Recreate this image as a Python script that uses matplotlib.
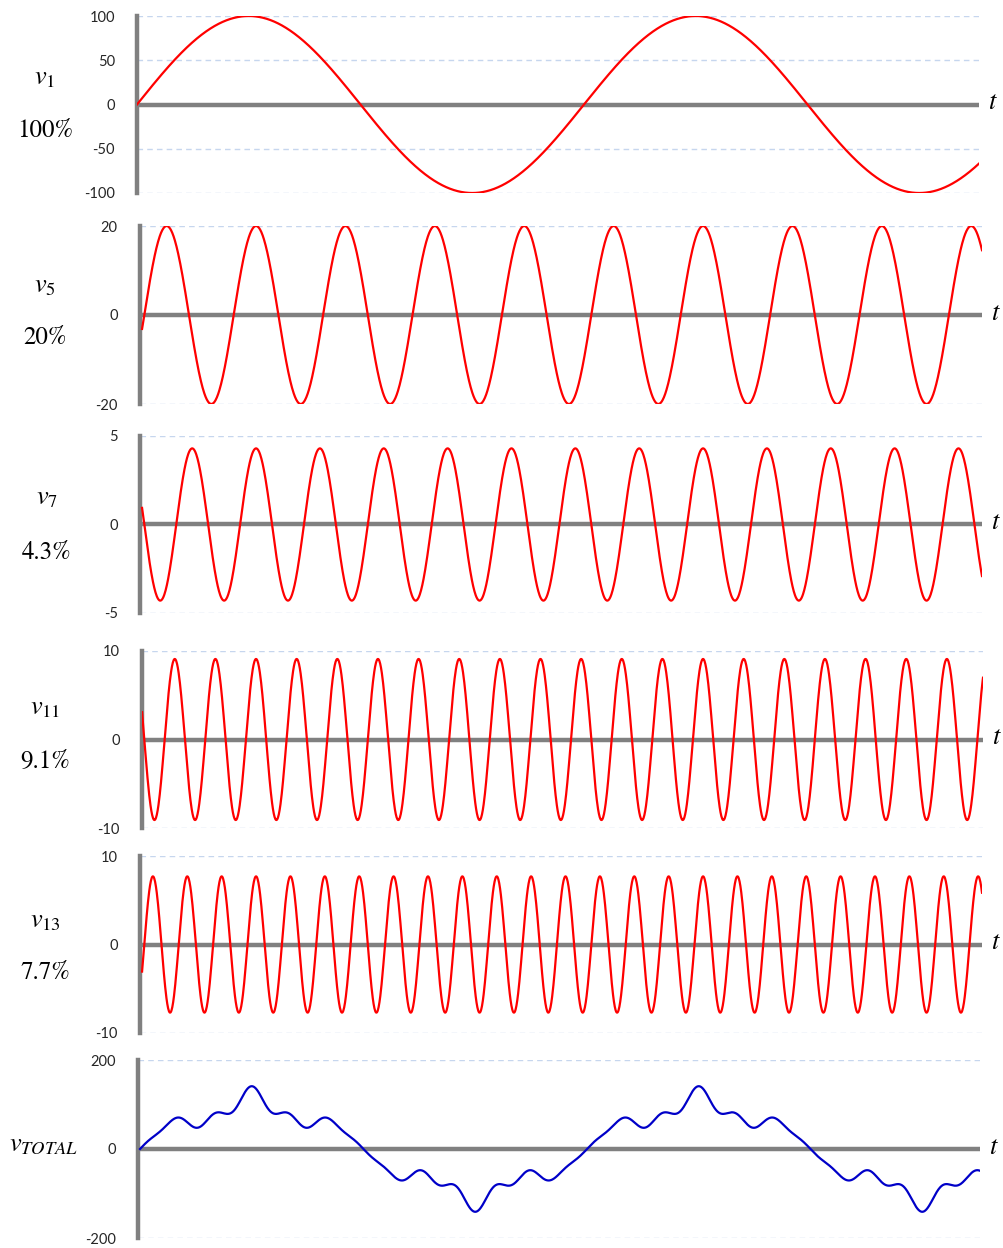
import numpy as np
import matplotlib
matplotlib.use('Agg')
import matplotlib.pyplot as plt

plt.rcParams['mathtext.fontset'] = 'stix'
plt.rcParams['font.family'] = ['Lato', 'DejaVu Sans']
plt.rcParams['axes.unicode_minus'] = False

# harmonic components (order, amplitude in %, sign of the sine)
orders = [1, 5, 7, 11, 13]
amplitudes = [100, 20, 4.3, 9.1, 7.7]
signs = [1, 1, -1, -1, 1]
pct_labels = ['100%', '20%', '4.3%', '9.1%', '7.7%']
name_labels = [r'$v_1$', r'$v_5$', r'$v_7$', r'$v_{11}$', r'$v_{13}$', r'$v_{TOTAL}$']
y_limits = [100, 20, 5, 10, 10, 200]
y_ticks = [[-100, -50, 0, 50, 100], [-20, 0, 20], [-5, 0, 5],
           [-10, 0, 10], [-10, 0, 10], [-200, 0, 200]]

# panel geometry in pixels: axis x, right end, top, bottom, x of 0 deg, first angle
W, H = 1004, 1248
panels = [
    (137, 979, 16, 193, 137.0, 0.0),
    (140, 982, 226, 404, 144.3, -1.8),
    (140, 982, 436, 613, 144.3, -1.8),
    (142, 983, 651, 828, 144.3, -1.8),
    (140, 982, 856, 1033, 144.3, -1.8),
    (138, 980, 1060, 1238, 140.0, 0.0),
]
label_pos = [(45, 77, 131), (45, 285, 338), (47, 498, 553),
             (45, 707, 762), (45, 920, 973), (44, 1145, None)]
px_per_deg = 447 / 360.0

fig = plt.figure(figsize=(W / 100, H / 100), dpi=100)

for i in range(6):
    xl, xr, yt, yb, x0, th_start = panels[i]
    ax = fig.add_axes([xl / W, 1 - yb / H, (xr - xl) / W, (yb - yt) / H])
    lo = (xl - x0) / px_per_deg
    hi = (xr - x0) / px_per_deg
    th = np.linspace(th_start, hi, 2000)
    rad = np.deg2rad(th)
    if i < 5:
        y = signs[i] * amplitudes[i] * np.sin(orders[i] * rad)
        color = '#ff0000'
    else:
        y = sum(s * a * np.sin(h * rad) for h, a, s in zip(orders, amplitudes, signs))
        color = '#0000c8'
    lim = y_limits[i]
    ax.set_xlim(lo, hi)
    ax.set_ylim(-lim, lim)

    for g in y_ticks[i]:
        if g != 0:
            ax.axhline(g, color='#c6d6ee', lw=1, ls=(0, (4, 3)), zorder=1)
    ax.axhline(0, color='#808080', lw=3.2, zorder=2, solid_capstyle='butt')
    ax.plot(th, y, color=color, lw=1.6, zorder=3)

    for s in ['top', 'right', 'bottom']:
        ax.spines[s].set_visible(False)
    ax.spines['left'].set_color('#808080')
    ax.spines['left'].set_linewidth(3.2)
    ax.set_xticks([])
    ax.set_yticks(y_ticks[i])
    ax.tick_params(axis='y', length=0, pad=16, labelsize=10.5, labelcolor='#262626')
    ax.patch.set_alpha(0)

    # t label at the end of the zero line
    yz = yt + (yb - yt) / 2
    fig.text((xr + 14) / W, 1 - (yz - 3) / H, r'$t$', fontsize=19,
             ha='center', va='center')

    lx, ly1, ly2 = label_pos[i]
    fig.text(lx / W, 1 - ly1 / H, name_labels[i], fontsize=19, ha='center', va='center')
    if ly2 is not None:
        fig.text(lx / W, 1 - ly2 / H, pct_labels[i], fontsize=18, ha='center',
                 va='center', family='STIXGeneral')

fig.savefig('out.png', dpi=100)
